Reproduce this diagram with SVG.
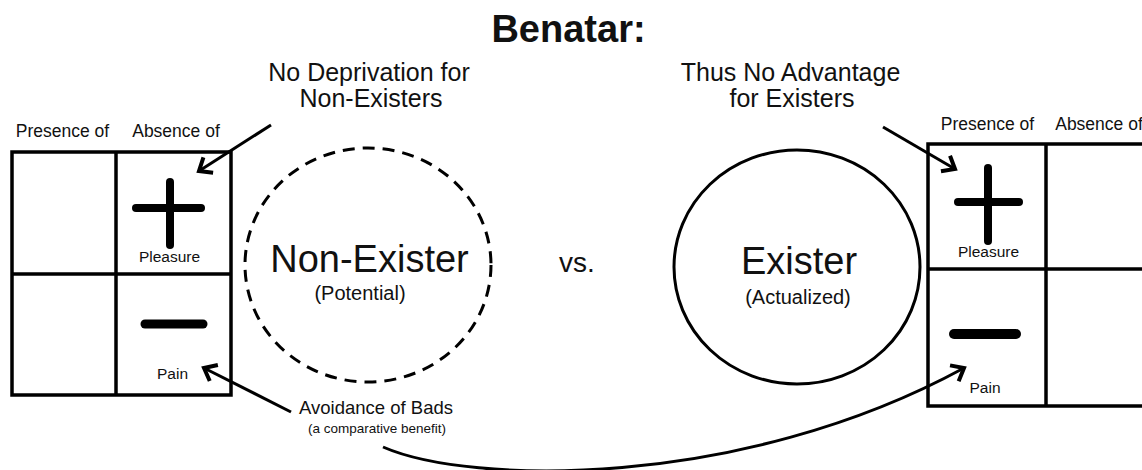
<svg xmlns="http://www.w3.org/2000/svg" width="1142" height="470" viewBox="0 0 1142 470">
<style>
text{font-family:"Liberation Sans",Arial,sans-serif;fill:#111;text-anchor:middle}
.grid{fill:none;stroke:#000;stroke-width:3.5}
.bar{stroke:#000;stroke-linecap:round}
.conn{fill:none;stroke:#000;stroke-width:3}
.hdr{font-size:17.5px}
.cell{font-size:15.5px}
.note{font-size:25px}
.big{font-size:38px}
.sub{font-size:20px}
</style>
<defs>
<marker id="ah" markerUnits="userSpaceOnUse" markerWidth="30" markerHeight="30" viewBox="-20 -15 30 30" refX="0" refY="0" orient="auto" overflow="visible">
<path d="M-11,-9 L0,0 L-11,9" fill="none" stroke="#000" stroke-width="4" stroke-linejoin="miter"/>
</marker>
</defs>
<rect width="1142" height="470" fill="#fff"/>
<text x="568.5" y="42" style="font-size:38px;font-weight:bold">Benatar:</text>

<g id="note-left">
<text class="note" x="369" y="81">No Deprivation for</text>
<text class="note" x="371" y="107">Non-Existers</text>
</g>
<g id="note-right">
<text class="note" x="790.5" y="81">Thus No Advantage</text>
<text class="note" x="792" y="107">for Existers</text>
</g>

<g id="table-left">
<text class="hdr" x="62.5" y="137">Presence of</text>
<text class="hdr" x="176" y="137">Absence of</text>
<rect class="grid" x="12" y="152" width="219" height="243"/>
<line class="grid" x1="116" y1="152" x2="116" y2="395"/>
<line class="grid" x1="12" y1="274" x2="231" y2="274"/>
<line class="bar" x1="170" y1="182" x2="170" y2="245" stroke-width="8"/>
<line class="bar" x1="136" y1="208" x2="201" y2="208" stroke-width="8"/>
<text class="cell" x="169.5" y="262">Pleasure</text>
<line class="bar" x1="145" y1="324" x2="203" y2="324" stroke-width="9"/>
<text class="cell" x="172.5" y="379">Pain</text>
</g>

<g id="non-exister">
<ellipse cx="368" cy="265" rx="123" ry="117" fill="none" stroke="#000" stroke-width="3" stroke-dasharray="12 8"/>
<text class="big" x="369.5" y="272">Non-Exister</text>
<text class="sub" x="360" y="300">(Potential)</text>
</g>

<g id="vs">
<text x="577" y="272" style="font-size:28px">vs.</text>
</g>

<g id="exister">
<ellipse cx="797" cy="267" rx="123" ry="117" fill="none" stroke="#000" stroke-width="3"/>
<text class="big" x="799" y="274">Exister</text>
<text class="sub" x="798" y="304">(Actualized)</text>
</g>

<g id="table-right">
<text class="hdr" x="987.5" y="130">Presence of</text>
<text class="hdr" x="1099" y="130">Absence of</text>
<rect class="grid" x="928" y="144" width="236" height="262"/>
<line class="grid" x1="1046" y1="144" x2="1046" y2="406"/>
<line class="grid" x1="928" y1="269" x2="1164" y2="269"/>
<line class="bar" x1="988" y1="168" x2="988" y2="241" stroke-width="8"/>
<line class="bar" x1="958" y1="202" x2="1019" y2="202" stroke-width="8"/>
<text class="cell" x="988.5" y="257">Pleasure</text>
<line class="bar" x1="954" y1="334" x2="1016" y2="334" stroke-width="10"/>
<text class="cell" x="985" y="393">Pain</text>
</g>

<g id="label-avoidance">
<text x="376" y="414" style="font-size:18.5px">Avoidance of Bads</text>
<text x="377" y="433" style="font-size:13.5px">(a comparative benefit)</text>
</g>

<g id="connectors">
<path class="conn" d="M271,125 L199,171" marker-end="url(#ah)"/>
<path class="conn" d="M883,127 L955,169" marker-end="url(#ah)"/>
<path class="conn" d="M291,412 L204,368" marker-end="url(#ah)"/>
<path class="conn" d="M383,447 C470,485 740,490 964,368" marker-end="url(#ah)"/>
</g>
</svg>
